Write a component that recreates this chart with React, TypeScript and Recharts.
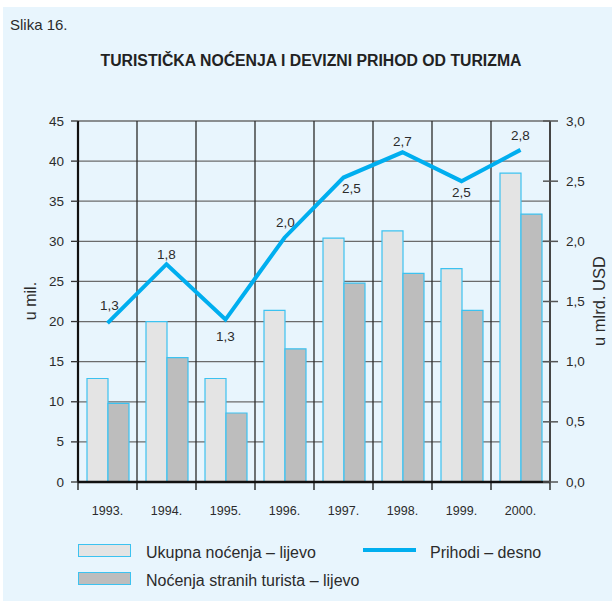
import React from "react";
import {
  ComposedChart,
  Bar,
  Line,
  XAxis,
  YAxis,
  CartesianGrid,
  LabelList,
} from "recharts";

// values
const years = ["1993.", "1994.", "1995.", "1996.", "1997.", "1998.", "1999.", "2000."];
const ukupnaNocenja = [12.9, 20.0, 12.9, 21.4, 30.4, 31.3, 26.6, 38.5];
const stranaNocenja = [9.8, 15.5, 8.6, 16.6, 24.8, 26.0, 21.4, 33.4];
const prihodi = [1.32, 1.81, 1.35, 2.03, 2.53, 2.74, 2.5, 2.76];
const prihodiLabels = ["1,3", "1,8", "1,3", "2,0", "2,5", "2,7", "2,5", "2,8"];
const leftTicks = [0, 5, 10, 15, 20, 25, 30, 35, 40, 45];
const rightTicks = [0, 0.5, 1, 1.5, 2, 2.5, 3];

const data = years.map((year, i) => ({
  year,
  ukupna: ukupnaNocenja[i],
  strana: stranaNocenja[i],
  prihodi: prihodi[i],
  label: prihodiLabels[i],
}));

// where each value label sits relative to its point
const labelShift = [
  { dx: 2, dy: -18 },
  { dx: 0, dy: -10 },
  { dx: 0, dy: 17 },
  { dx: 1, dy: -15 },
  { dx: 8, dy: 11 },
  { dx: 0, dy: -11 },
  { dx: 0, dy: 11 },
  { dx: 0, dy: -14 },
];

const FONT = "'Liberation Sans', Arial, Helvetica, sans-serif";
const TEXT = "#2b2b2b";
const BLUE = "#00aeef";
const BAR_EDGE = "#3cc2f0";

function YearTick(props: any) {
  const { x, y, payload, index, visibleTicksCount } = props;
  const half = payload && payload.offset ? payload.offset : 29.5;
  const axisY = y - 28;
  return (
    <g>
      <line x1={x - half} x2={x - half} y1={axisY} y2={axisY + 8} stroke="#111" strokeWidth={1.3} />
      {index === visibleTicksCount - 1 && (
        <line x1={x + half} x2={x + half} y1={axisY} y2={axisY + 8} stroke="#111" strokeWidth={1.3} />
      )}
      <text x={x} y={y + 1} textAnchor="middle" dominantBaseline="central" fontSize={12.5} fill={TEXT} fontFamily={FONT}>
        {payload.value}
      </text>
    </g>
  );
}

function LeftTick(props: any) {
  const { x, y, payload } = props;
  return (
    <text x={x} y={y} textAnchor="end" dominantBaseline="central" fontSize={13.5} fill={TEXT} fontFamily={FONT}>
      {payload.value}
    </text>
  );
}

function RightTick(props: any) {
  const { x, y, payload } = props;
  const axisX = x - 16;
  return (
    <g>
      <line x1={axisX - 7} x2={axisX + 8} y1={y} y2={y} stroke="#555" strokeWidth={1.5} />
      <text x={x} y={y} textAnchor="start" dominantBaseline="central" fontSize={13.5} fill={TEXT} fontFamily={FONT}>
        {payload.value.toFixed(1).replace(".", ",")}
      </text>
    </g>
  );
}

function PointLabel(props: any) {
  const { x, y, index, value } = props;
  const s = labelShift[index] || { dx: 0, dy: -12 };
  return (
    <text
      x={x + s.dx}
      y={y + s.dy}
      textAnchor="middle"
      dominantBaseline="central"
      fontSize={13.5}
      fill={TEXT}
      fontFamily={FONT}
    >
      {value}
    </text>
  );
}

function Legend() {
  return (
    <svg width={612} height={70} style={{ position: "absolute", left: 0, top: 530 }}>
      <rect x={78.5} y={14.5} width={52} height={12} fill="#e4e4e4" stroke={BAR_EDGE} strokeWidth={1} />
      <text x={146} y={22} fontSize={16} fill={TEXT} fontFamily={FONT} dominantBaseline="central">
        Ukupna noćenja – lijevo
      </text>
      <rect x={78.5} y={42.5} width={52} height={12} fill="#bdbdbd" stroke={BAR_EDGE} strokeWidth={1} />
      <text x={146} y={50} fontSize={16} fill={TEXT} fontFamily={FONT} dominantBaseline="central">
        Noćenja stranih turista – lijevo
      </text>
      <line x1={363} x2={416} y1={20} y2={20} stroke={BLUE} strokeWidth={4} />
      <text x={430} y={22} fontSize={16} fill={TEXT} fontFamily={FONT} dominantBaseline="central">
        Prihodi – desno
      </text>
    </svg>
  );
}

export default function App() {
  return (
    <div style={{ position: "absolute", left: 0, top: 0, width: 612, height: 601, background: "#fff", overflow: "hidden" }}>
      <div style={{ position: "absolute", left: 3, top: 7, right: 0, bottom: 0, background: "#e8f5fd" }} />
      <div style={{ position: "absolute", left: 10, top: 16, fontSize: 15, fontFamily: FONT, color: TEXT }}>Slika 16.</div>
      <div
        style={{
          position: "absolute",
          left: 0,
          width: 622,
          top: 52,
          textAlign: "center",
          fontSize: 15.8,
          fontWeight: "bold",
          fontFamily: FONT,
          color: "#222",
        }}
      >
        TURISTIČKA NOĆENJA I DEVIZNI PRIHOD OD TURIZMA
      </div>
      <div style={{ position: "absolute", left: 0, top: 0 }}>
        <ComposedChart
          width={612}
          height={601}
          data={data}
          margin={{ top: 121, right: 0, bottom: 0, left: 0 }}
          barGap={0}
        >
          <CartesianGrid yAxisId="left" vertical={false} stroke="#6b6b6b" strokeWidth={1.3} />
          <CartesianGrid
            yAxisId="left"
            horizontal={false}
            stroke="#2a2a2a"
            strokeWidth={1.3}
            verticalCoordinatesGenerator={({ offset }: any) =>
              years.slice(1).map((_, i) => offset.left + ((i + 1) * offset.width) / years.length)
            }
          />
          <XAxis
            dataKey="year"
            height={119}
            axisLine={{ stroke: "#111", strokeWidth: 2.5 }}
            tickLine={false}
            tickSize={8}
            tickMargin={20}
            tick={<YearTick />}
            interval={0}
          />
          <YAxis
            yAxisId="left"
            width={78}
            domain={[0, 45]}
            ticks={leftTicks}
            interval={0}
            axisLine={{ stroke: "#111", strokeWidth: 2.2 }}
            tickLine={{ stroke: "#333", strokeWidth: 1.3 }}
            tickSize={7}
            tickMargin={7}
            tick={<LeftTick />}
            label={{
              content: () => (
                <text
                  x={30}
                  y={301}
                  transform="rotate(-90 30 301)"
                  textAnchor="middle"
                  dominantBaseline="central"
                  fontSize={16}
                  fill={TEXT}
                  fontFamily={FONT}
                >
                  u mil.
                </text>
              ),
            }}
          />
          <YAxis
            yAxisId="right"
            orientation="right"
            width={62}
            domain={[0, 3]}
            ticks={rightTicks}
            interval={0}
            axisLine={{ stroke: "#444", strokeWidth: 2 }}
            tickLine={false}
            tickSize={8}
            tickMargin={8}
            tick={<RightTick />}
            label={{
              content: () => (
                <text
                  x={599}
                  y={301}
                  transform="rotate(-90 599 301)"
                  textAnchor="middle"
                  dominantBaseline="central"
                  fontSize={16.5}
                  fill={TEXT}
                  fontFamily={FONT}
                >
                  u mlrd. USD
                </text>
              ),
            }}
          />
          <Bar
            yAxisId="left"
            dataKey="ukupna"
            barSize={21}
            fill="#e4e4e4"
            stroke={BAR_EDGE}
            strokeWidth={1.2}
            isAnimationActive={false}
          />
          <Bar
            yAxisId="left"
            dataKey="strana"
            barSize={21}
            fill="#bdbdbd"
            stroke={BAR_EDGE}
            strokeWidth={1.2}
            isAnimationActive={false}
          />
          <Line
            yAxisId="right"
            type="linear"
            dataKey="prihodi"
            stroke={BLUE}
            strokeWidth={4}
            dot={false}
            activeDot={false}
            isAnimationActive={false}
          >
            <LabelList dataKey="label" content={<PointLabel />} />
          </Line>
        </ComposedChart>
      </div>
      <Legend />
    </div>
  );
}
